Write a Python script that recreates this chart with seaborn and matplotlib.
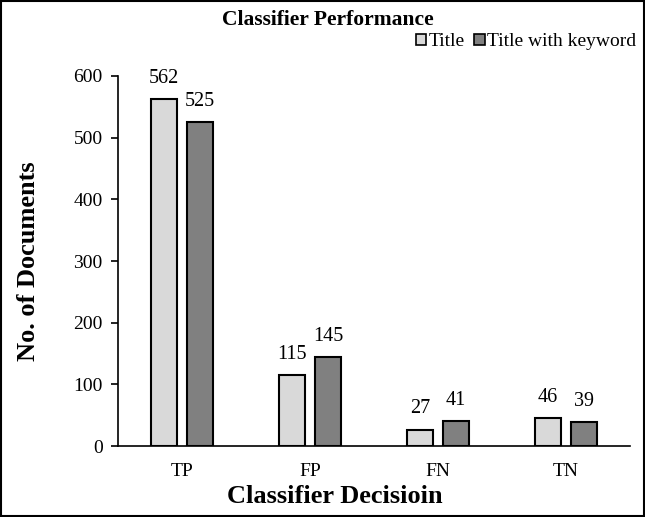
import matplotlib
matplotlib.use("Agg")
import matplotlib.pyplot as plt
import seaborn as sns
import pandas as pd
from matplotlib.patches import Rectangle

categories = ["TP", "FP", "FN", "TN"]
series_names = ["Title", "Title with keyword"]
title_vals = [562, 115, 27, 46]
keyword_vals = [525, 145, 41, 39]
yticks = [0, 100, 200, 300, 400, 500, 600]

df = pd.DataFrame({
    "Decision": categories * 2,
    "Series": [series_names[0]] * 4 + [series_names[1]] * 4,
    "Count": title_vals + keyword_vals,
})

sns.set_theme(style="white")
plt.rcParams["font.family"] = ["Liberation Serif", "DejaVu Serif"]
plt.rcParams["text.color"] = "black"
plt.rcParams["axes.labelcolor"] = "black"
plt.rcParams["xtick.color"] = "black"
plt.rcParams["ytick.color"] = "black"

fig = plt.figure(figsize=(6.45, 5.17), dpi=100)
ax = fig.add_axes([0.183, 0.137, 0.794, 0.716])

sns.barplot(data=df, x="Decision", y="Count", hue="Series", order=categories,
            hue_order=series_names, palette=["#D9D9D9", "#808080"],
            width=0.56, gap=0.28, edgecolor="black", linewidth=1.5,
            legend=False, ax=ax)

for cont in ax.containers:
    ax.bar_label(cont, padding=8, fontsize=14.5, color="black")

ax.set_xlim(-0.5, 3.5)
ax.set_ylim(0, 600)
ax.set_yticks(yticks)
ax.set_yticklabels([str(v) for v in yticks], fontsize=14)
ax.set_xticks(range(len(categories)))
ax.set_xticklabels(categories, fontsize=14)
ax.set_xticks([-0.5, 0.5, 1.5, 2.5, 3.5], minor=True)
ax.tick_params(axis="x", which="major", length=0, pad=12)
ax.tick_params(axis="x", which="minor", length=5, width=1.2, color="black", direction="out")
ax.tick_params(axis="y", length=5, width=1.2, color="black", direction="out", left=True, pad=6)

for s in ["top", "right"]:
    ax.spines[s].set_visible(False)
for s in ["left", "bottom"]:
    ax.spines[s].set_color("black")
    ax.spines[s].set_linewidth(1.2)

ax.set_xlabel("Classifier Decisioin", fontsize=19, fontweight="bold")
ax.set_ylabel("No. of Documents", fontsize=19, fontweight="bold")
ax.xaxis.set_label_coords(0.424, -0.106)
ax.yaxis.set_label_coords(-0.152, 0.5)

fig.text(0.508, 0.962, "Classifier Performance", ha="center", va="center",
         fontsize=15.5, fontweight="bold")

handles = [Rectangle((0, 0), 1, 1, facecolor=c, edgecolor="black", linewidth=1.2)
           for c in ["#D9D9D9", "#808080"]]
fig.legend(handles, series_names, loc="upper right", bbox_to_anchor=(1.004, 0.958),
           ncol=2, frameon=False, fontsize=14, handlelength=0.55, handleheight=0.55,
           handletextpad=0.1, columnspacing=0.5, borderaxespad=0.2)

fig.patches.append(Rectangle((0.002, 0.002), 0.996, 0.996, transform=fig.transFigure,
                             fill=False, edgecolor="black", linewidth=1.5))

fig.savefig("out.png", dpi=100)
